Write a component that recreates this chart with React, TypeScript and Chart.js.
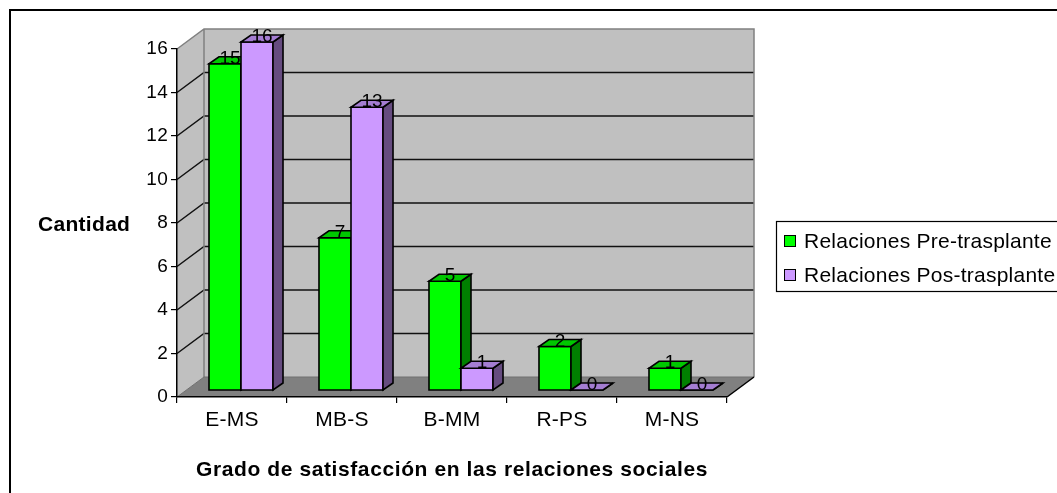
import React, { useEffect, useRef } from 'react';
import { Chart, registerables } from 'chart.js';

Chart.register(...registerables);

// ---- data ----
const categories = ['E-MS', 'MB-S', 'B-MM', 'R-PS', 'M-NS'];
const preValues = [15, 7, 5, 2, 1];
const posValues = [16, 13, 1, 0, 0];
const seriesNames = ['Relaciones Pre-trasplante', 'Relaciones Pos-trasplante'];
const yTitle = 'Cantidad';
const xTitle = 'Grado de satisfacción en las relaciones sociales';
const yMin = 0;
const yMax = 16;
const yStep = 2;

// ---- styles ----
const FONT = "'Liberation Sans', Arial, Helvetica, sans-serif";
const seriesFaces = [
  { front: '#00FF00', top: '#00C800', side: '#008000' },
  { front: '#CC99FF', top: '#A47DD2', side: '#664C80' },
];
const WALL_DX = 27;
const WALL_DY = -20;
const BAR_OX = 9;
const BAR_OY = -7;
const BAR_DX = 10;
const BAR_DY = -7;
const BASE_SPACING = '0.25px';

function poly(ctx: CanvasRenderingContext2D, pts: number[][], fill?: string, stroke?: string, lw = 1) {
  ctx.beginPath();
  ctx.moveTo(pts[0][0], pts[0][1]);
  for (let i = 1; i < pts.length; i++) ctx.lineTo(pts[i][0], pts[i][1]);
  ctx.closePath();
  if (fill) {
    ctx.fillStyle = fill;
    ctx.fill();
  }
  if (stroke) {
    ctx.strokeStyle = stroke;
    ctx.lineWidth = lw;
    ctx.stroke();
  }
}

const excel3d = {
  id: 'excel3d',
  beforeLayout(chart: any) {
    chart.ctx.letterSpacing = BASE_SPACING;
  },
  beforeDraw(chart: any) {
    const ctx: CanvasRenderingContext2D = chart.ctx;
    const { left, right, top, bottom } = chart.chartArea;
    const ys = chart.scales.y;
    ctx.save();
    ctx.fillStyle = '#FFFFFF';
    ctx.fillRect(0, 0, chart.width, chart.height);
    // outer frame (extends beyond the canvas)
    ctx.fillStyle = '#000';
    ctx.fillRect(9, 9, 2, chart.height);
    ctx.fillRect(9, 9, chart.width, 2);

    // back wall
    ctx.fillStyle = '#C0C0C0';
    ctx.fillRect(left + WALL_DX, top + WALL_DY, right - left, bottom - top);
    // side wall
    poly(ctx, [[left, bottom], [left, top], [left + WALL_DX, top + WALL_DY], [left + WALL_DX, bottom + WALL_DY]], '#C0C0C0');
    // floor
    poly(ctx, [[left, bottom], [right, bottom], [right + WALL_DX, bottom + WALL_DY], [left + WALL_DX, bottom + WALL_DY]], '#808080');

    // gridlines on walls
    ys.ticks.forEach((t: any) => {
      if (t.value <= yMin || t.value >= yMax) return;
      const py = ys.getPixelForValue(t.value);
      ctx.beginPath();
      ctx.moveTo(left, py);
      ctx.lineTo(left + WALL_DX, py + WALL_DY);
      ctx.lineTo(right + WALL_DX, py + WALL_DY);
      ctx.strokeStyle = '#111';
      ctx.lineWidth = 1.5;
      ctx.stroke();
    });
    // wall edges
    ctx.beginPath();
    ctx.moveTo(left, top);
    ctx.lineTo(left + WALL_DX, top + WALL_DY);
    ctx.lineTo(right + WALL_DX, top + WALL_DY);
    ctx.lineTo(right + WALL_DX, bottom + WALL_DY);
    ctx.moveTo(left + WALL_DX, top + WALL_DY);
    ctx.lineTo(left + WALL_DX, bottom + WALL_DY);
    ctx.strokeStyle = '#808080';
    ctx.lineWidth = 1.5;
    ctx.stroke();
    // floor edges
    ctx.beginPath();
    ctx.moveTo(left, bottom);
    ctx.lineTo(left + WALL_DX, bottom + WALL_DY);
    ctx.lineTo(right + WALL_DX, bottom + WALL_DY);
    ctx.strokeStyle = '#707070';
    ctx.lineWidth = 1;
    ctx.stroke();
    ctx.beginPath();
    ctx.moveTo(right, bottom);
    ctx.lineTo(right + WALL_DX, bottom + WALL_DY);
    ctx.strokeStyle = '#000';
    ctx.lineWidth = 1.5;
    ctx.stroke();
    ctx.restore();
    ctx.letterSpacing = BASE_SPACING;
  },
  afterDatasetsDraw(chart: any) {
    const ctx: CanvasRenderingContext2D = chart.ctx;
    const ys = chart.scales.y;
    const labels: { x: number; y: number; t: string }[] = [];
    ctx.save();
    ctx.lineJoin = 'miter';
    const nCat = chart.data.labels.length;
    for (let j = 0; j < nCat; j++) {
      chart.data.datasets.forEach((ds: any, i: number) => {
        const el = chart.getDatasetMeta(i).data[j];
        const { x, width } = el.getProps(['x', 'width'], true);
        const v = ds.data[j];
        const face = seriesFaces[i];
        const x0 = x - width / 2 + BAR_OX;
        const x1 = x + width / 2 + BAR_OX;
        const yb = ys.getPixelForValue(0) + BAR_OY;
        const yt = ys.getPixelForValue(v) + BAR_OY;
        poly(ctx, [[x0, yb], [x1, yb], [x1, yt], [x0, yt]], face.front, '#000', 1.6);
        poly(ctx, [[x1, yb], [x1, yt], [x1 + BAR_DX, yt + BAR_DY], [x1 + BAR_DX, yb + BAR_DY]], face.side, '#000', 1.6);
        poly(ctx, [[x0, yt], [x1, yt], [x1 + BAR_DX, yt + BAR_DY], [x0 + BAR_DX, yt + BAR_DY]], face.top, '#000', 1.6);
        labels.push({ x: (x0 + x1) / 2 + BAR_DX / 2, y: yt, t: String(v) });
      });
    }
    ctx.letterSpacing = '0px';
    ctx.font = `19px ${FONT}`;
    ctx.fillStyle = '#000';
    ctx.textAlign = 'center';
    ctx.textBaseline = 'alphabetic';
    labels.forEach((l) => ctx.fillText(l.t, l.x, l.y));
    ctx.restore();
  },
  afterDraw(chart: any) {
    const ctx: CanvasRenderingContext2D = chart.ctx;
    const { left, right } = chart.chartArea;
    ctx.save();
    // y-axis title (horizontal)
    ctx.letterSpacing = '0.3px';
    ctx.font = `bold 21px ${FONT}`;
    ctx.fillStyle = '#000';
    ctx.textAlign = 'left';
    ctx.textBaseline = 'middle';
    ctx.fillText(yTitle, 38, 225);

    // x-axis title
    ctx.letterSpacing = '0.6px';
    ctx.textAlign = 'center';
    ctx.fillText(xTitle, (left + right) / 2, 470);

    // legend
    const lx = 776;
    const ly = 221;
    ctx.fillStyle = '#FFF';
    ctx.fillRect(lx, ly, 400, 70);
    ctx.strokeStyle = '#000';
    ctx.lineWidth = 1.2;
    ctx.strokeRect(lx + 0.5, ly + 0.5, 400, 70);
    ctx.letterSpacing = '0.25px';
    ctx.font = `21px ${FONT}`;
    chart.data.datasets.forEach((ds: any, i: number) => {
      const cy = ly + 20 + i * 34;
      ctx.fillStyle = seriesFaces[i].front;
      ctx.fillRect(lx + 8, cy - 6, 11, 11);
      ctx.strokeStyle = '#000';
      ctx.lineWidth = 1;
      ctx.strokeRect(lx + 8.5, cy - 5.5, 11, 11);
      ctx.fillStyle = '#000';
      ctx.textAlign = 'left';
      ctx.textBaseline = 'middle';
      ctx.fillText(ds.label, lx + 28, cy + 1);
    });
    ctx.restore();
  },
};

export default function App() {
  const ref = useRef<HTMLCanvasElement | null>(null);
  useEffect(() => {
    document.body.style.margin = '0';
    const canvas = ref.current;
    if (!canvas) return;
    const chart = new Chart(canvas, {
      type: 'bar',
      data: {
        labels: categories,
        datasets: [
          { label: seriesNames[0], data: preValues, backgroundColor: 'rgba(0,0,0,0)', borderWidth: 0 },
          { label: seriesNames[1], data: posValues, backgroundColor: 'rgba(0,0,0,0)', borderWidth: 0 },
        ],
      },
      options: {
        responsive: false,
        animation: false,
        events: [],
        categoryPercentage: 0.582,
        barPercentage: 1,
        layout: { padding: { left: 0, top: 49, right: 330, bottom: 0 } },
        plugins: { legend: { display: false }, tooltip: { enabled: false }, title: { display: false } },
        scales: {
          x: {
            type: 'category',
            offset: true,
            grid: { display: true, drawOnChartArea: false, drawTicks: true, tickLength: 6, color: '#000', offset: true, lineWidth: 1.2 },
            border: { display: true, color: '#000', width: 1.5 },
            ticks: { color: '#000', font: { family: FONT, size: 21 }, padding: 5, maxRotation: 0, autoSkip: false },
            title: { display: false },
            afterFit(s: any) {
              s.height = 96;
            },
          },
          y: {
            min: yMin,
            max: yMax,
            ticks: { stepSize: yStep, color: '#000', font: { family: FONT, size: 19 }, padding: 3 },
            grid: { display: true, drawOnChartArea: false, drawTicks: true, tickLength: 6, color: '#000', lineWidth: 1.2 },
            border: { display: true, color: '#000', width: 1.5 },
            afterFit(s: any) {
              s.width = 177;
            },
          },
        },
      },
      plugins: [excel3d],
    } as any);
    return () => chart.destroy();
  }, []);
  return <canvas ref={ref} width={1057} height={493} style={{ display: 'block' }} />;
}
